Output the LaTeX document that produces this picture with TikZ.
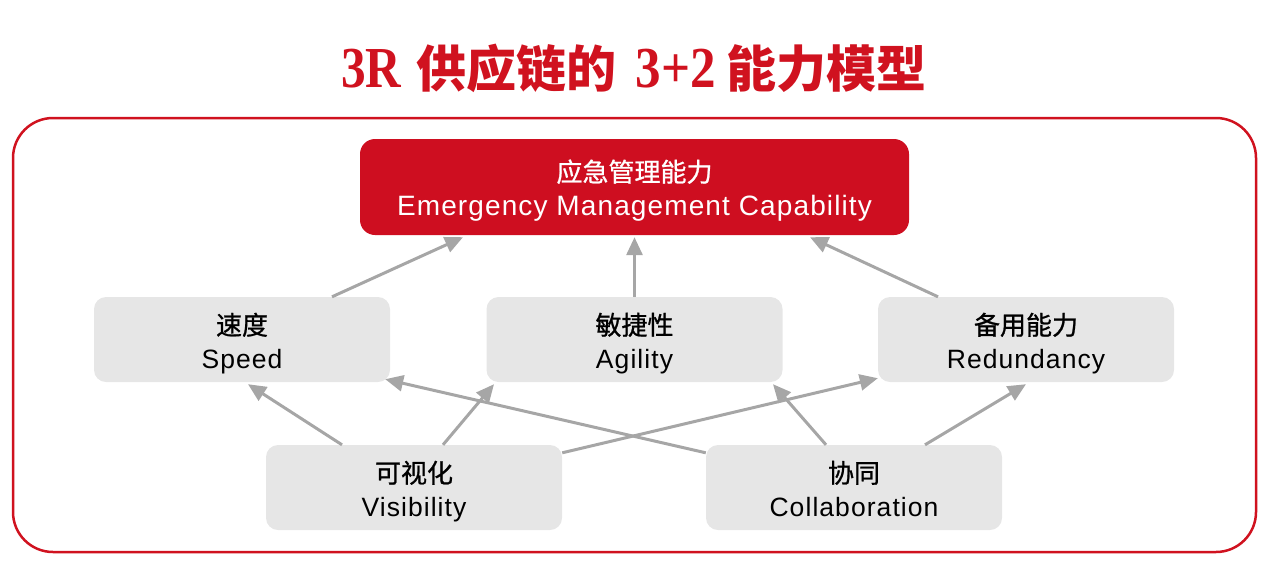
\documentclass[tikz,border=0pt]{standalone}
\usepackage{fontspec}
\setmainfont{Liberation Sans}[LetterSpace=4]
\newfontfamily\cjk{Noto Sans CJK SC}[FakeBold=0.9]
\newfontfamily\cjkt{Noto Sans CJK SC}
\newfontfamily\titleserif{Liberation Serif}
\usetikzlibrary{arrows.meta,calc}
\definecolor{mred}{HTML}{CE0E20}
\definecolor{tred}{HTML}{D0121F}
\definecolor{boxgray}{HTML}{E6E6E6}
\definecolor{arrgray}{HTML}{A6A6A6}
\tikzset{
  graybox/.style={fill=boxgray, rounded corners=12pt, minimum width=296pt, minimum height=85pt, inner sep=0pt},
  redbox/.style={fill=mred, rounded corners=15pt, minimum width=549pt, minimum height=96pt, inner sep=0pt},
  boxtext/.style={inner sep=0pt, align=center, text=black, font=\fontsize{26.5}{34}\selectfont},
  redtext/.style={boxtext, text=white, font=\fontsize{28}{34}\selectfont},
  conn/.style={draw=arrgray, line width=3pt, -{Triangle[length=18pt,width=16pt]}},
}
\newcommand{\cn}[1]{{\fontsize{26}{34}\selectfont\cjk #1}}
\begin{document}
\begin{tikzpicture}[x=1pt,y=-1pt]
\useasboundingbox (0,0) rectangle (1271,568);
% title
\node[inner sep=0pt, text=tred] (title) at (634,68) {\titleserif\bfseries\fontsize{58}{60}\selectfont
  \scalebox{0.85}[1]{3R}\hspace{15pt}{\cjkt\bfseries\fontsize{50}{56}\selectfont 供应链的}\hspace{19pt}\scalebox{0.88}[1]{3+2}\hspace{11pt}{\cjkt\bfseries\fontsize{50}{56}\selectfont 能力模型}};
% frame
\draw[draw=tred, line width=2.5pt, rounded corners=40pt] (13,118) rectangle (1256,552);
% boxes
\node[redbox] (top) at (634.5,187) {};
\node[graybox] (speed) at (242,339.5) {};
\node[graybox] (agil) at (634.5,339.5) {};
\node[graybox] (redu) at (1026,339.5) {};
\node[graybox] (vis) at (414,487.5) {};
\node[graybox] (coll) at (854,487.5) {};
% texts
\node[redtext] (topt) at ([yshift=-3.5pt]top.center) {\cn{应急管理能力}\\Emergency Management Capability};
\node[boxtext] (speedt) at ([yshift=-4pt]speed.center) {\cn{速度}\\Speed};
\node[boxtext] (agilt) at ([yshift=-4pt]agil.center) {\cn{敏捷性}\\Agility};
\node[boxtext] (redut) at ([yshift=-4pt]redu.center) {\cn{备用能力}\\Redundancy};
\node[boxtext] (vist) at ([yshift=-4pt]vis.center) {\cn{可视化}\\Visibility};
\node[boxtext] (collt) at ([yshift=-4pt]coll.center) {\cn{协同}\\Collaboration\vphantom{y}};
% connectors
\draw[conn] ([xshift=90pt]speed.north) -- ([xshift=-171.5pt,yshift=-2pt]top.south);
\draw[conn] (agil.north) -- ([yshift=-2pt]top.south);
\draw[conn] ([xshift=-88pt]redu.north) -- ([xshift=175.5pt,yshift=-2pt]top.south);
\draw[conn] ([xshift=-72pt]vis.north) -- ([xshift=6pt,yshift=-2pt]speed.south);
\draw[conn] ([xshift=29pt]vis.north) -- ([xshift=-140.5pt,yshift=-2pt]agil.south);
\draw[conn] ([yshift=-8pt]vis.north east) -- ([yshift=4pt]redu.south west);
\draw[conn] ([yshift=-8pt]coll.north west) -- ([xshift=-5pt,yshift=3pt]speed.south east);
\draw[conn] ([xshift=-28pt]coll.north) -- ([xshift=138.5pt,yshift=-2pt]agil.south);
\draw[conn] ([xshift=71pt]coll.north) -- ([yshift=-2pt]redu.south);
\end{tikzpicture}
\end{document}
